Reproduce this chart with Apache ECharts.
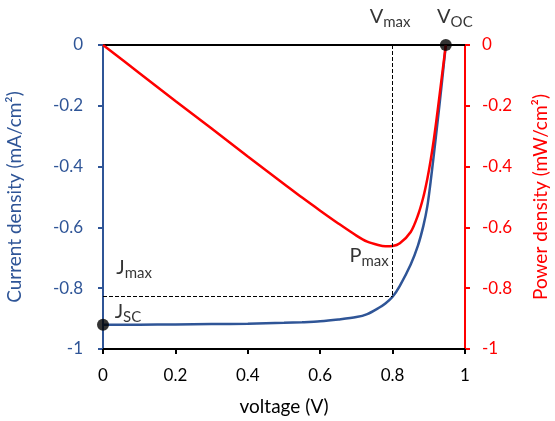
<!DOCTYPE html>
<html>
<head>
  <meta charset="utf-8">
  <title>J-V and P-V curve</title>
  <script src="https://cdn.jsdelivr.net/npm/echarts@6/dist/echarts.min.js"></script>
</head>
<body style="margin:0; background:#fff">
  <div id="container" style="width:555px; height:421px;"></div>
  <script>
    // data
    var voltage = [0, 0.1, 0.2, 0.3, 0.4, 0.5, 0.55, 0.6, 0.65, 0.7, 0.73, 0.76, 0.78, 0.8, 0.82, 0.85, 0.87, 0.885, 0.896, 0.905, 0.914, 0.925, 0.936, 0.947];
    var current = [-0.92, -0.92, -0.919, -0.918, -0.917, -0.914, -0.912, -0.909, -0.903, -0.895, -0.885, -0.866, -0.85, -0.828, -0.792, -0.722, -0.66, -0.595, -0.53, -0.45, -0.36, -0.245, -0.125, 0];
    var power = [0, -0.092, -0.184, -0.275, -0.367, -0.457, -0.502, -0.545, -0.587, -0.627, -0.647, -0.658, -0.662, -0.661, -0.652, -0.615, -0.56, -0.50, -0.44, -0.38, -0.31, -0.21, -0.105, 0];

    var vMax = 0.8, jMax = -0.828;
    var jsc = [0, -0.92];
    var voc = [0.947, 0];

    // annotation labels
    var annotMain = ['V', 'V', 'J', 'J', 'P'];
    var annotSub = ['max', 'OC', 'max', 'SC', 'max'];
    var annotX = [0.793, 0.972, 0.086, 0.069, 0.735];
    var annotY = [0.092, 0.092, -0.733, -0.878, -0.694];

    var blue = '#2F5597';
    var red = '#FF0000';
    var font = 'Lato';

    var jvData = voltage.map(function (v, i) { return [v, current[i]]; });
    var pvData = voltage.map(function (v, i) { return [v, power[i]]; });
    var annotData = annotX.map(function (x, i) {
      return {
        value: [x, annotY[i]],
        label: { formatter: '{a|' + annotMain[i] + '}{b|' + annotSub[i] + '}' }
      };
    });

    var chart = echarts.init(document.getElementById('container'), null, { renderer: 'canvas' });

    var option = {
      animation: false,
      textStyle: { fontFamily: font },
      grid: { left: 103, right: 90, top: 45, bottom: 72, outerBoundsMode: 'none', containLabel: false },
      xAxis: [
        {
          type: 'value', min: 0, max: 1, interval: 0.2,
          name: 'voltage (V)', nameLocation: 'middle', nameGap: 48,
          nameTextStyle: { color: '#000', fontSize: 19, fontFamily: font },
          axisLine: { onZero: false, lineStyle: { color: '#000', width: 2 } },
          axisTick: { show: true, length: 5, lineStyle: { color: '#000', width: 2 } },
          axisLabel: { color: '#000', fontSize: 17, margin: 18, fontFamily: font },
          splitLine: { show: false }
        },
        {
          type: 'value', min: 0, max: 1, position: 'top',
          axisLine: { show: true, onZero: false, lineStyle: { color: '#000', width: 2 } },
          axisTick: { show: false },
          axisLabel: { show: false },
          splitLine: { show: false }
        }
      ],
      yAxis: [
        {
          type: 'value', min: -1, max: 0, interval: 0.2, position: 'left',
          name: 'Current density (mA/cm²)', nameLocation: 'middle', nameGap: 79, nameRotate: 90,
          nameTextStyle: { color: blue, fontSize: 19, fontFamily: font },
          axisLine: { show: true, onZero: false, lineStyle: { color: blue, width: 2 } },
          axisTick: { show: true, length: 5, lineStyle: { color: blue, width: 2 } },
          axisLabel: { color: blue, fontSize: 17, margin: 20, fontFamily: font },
          splitLine: { show: false }
        },
        {
          type: 'value', min: -1, max: 0, interval: 0.2, position: 'right',
          name: 'Power density (mW/cm²)', nameLocation: 'middle', nameGap: 66, nameRotate: 90,
          nameTextStyle: { color: red, fontSize: 19, fontFamily: font },
          axisLine: { show: true, onZero: false, lineStyle: { color: red, width: 2 } },
          axisTick: { show: true, length: 5, lineStyle: { color: red, width: 2 } },
          axisLabel: { color: red, fontSize: 17, margin: 17, fontFamily: font },
          splitLine: { show: false }
        }
      ],
      series: [
        {
          name: 'J-V', type: 'line', data: jvData, smooth: 0.3,
          showSymbol: false, symbol: 'none',
          lineStyle: { color: blue, width: 2.5 },
          markLine: {
            silent: true, symbol: 'none', label: { show: false },
            lineStyle: { color: '#000', type: 'dashed', width: 1 },
            data: [
              [{ coord: [vMax, 0] }, { coord: [vMax, jMax] }],
              [{ coord: [0, jMax] }, { coord: [vMax, jMax] }]
            ]
          }
        },
        {
          name: 'P-V', type: 'line', data: pvData, smooth: 0.3, yAxisIndex: 1,
          showSymbol: false, symbol: 'none',
          lineStyle: { color: red, width: 2.5 }
        },
        {
          name: 'points', type: 'scatter', data: [jsc, voc],
          symbolSize: 12, clip: false,
          itemStyle: { color: '#000' }, z: 5
        },
        {
          name: 'labels', type: 'scatter', data: annotData,
          symbolSize: 0, clip: false, silent: true,
          label: {
            show: true, position: 'inside', color: '#000',
            rich: {
              a: { fontSize: 20, lineHeight: 26, color: '#000', fontFamily: font },
              b: { fontSize: 15, lineHeight: 15, verticalAlign: 'bottom', color: '#000', fontFamily: font }
            }
          }
        }
      ]
    };

    chart.setOption(option);
  </script>
</body>
</html>
